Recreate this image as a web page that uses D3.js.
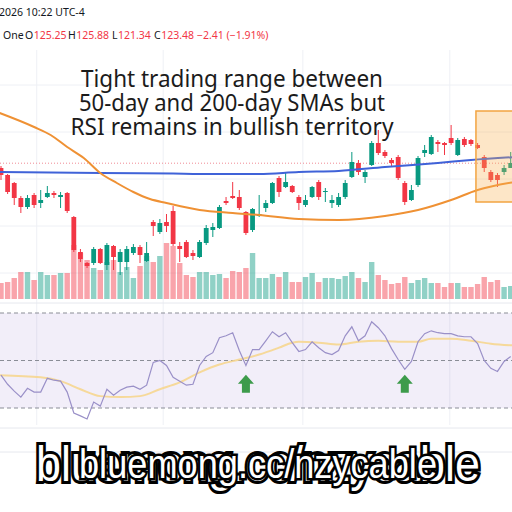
<!DOCTYPE html>
<html><head><meta charset="utf-8">
<script src="https://cdn.jsdelivr.net/npm/d3@7"></script>
<style>html,body{margin:0;padding:0;background:#fff;} svg{display:block;}</style>
</head><body>
<script>
// ---------- DATA ----------
const opens = [123.0,122.3,121.5,120.0,119.1,120.3,119.5,120.1,120.5,120.1,
  120.5,118.1,114.6,113.5,113.5,114.9,113.3,115.2,113.6,113.6,
  114.5,115.1,113.7,117.6,116.6,117.6,118.7,115.2,115.6,114.5,
  114.1,115.5,116.8,117.0,119.7,120.2,120.1,118.6,116.8,118.2,
  119.0,119.5,122.0,121.1,121.2,120.1,119.3,120.1,121.6,120.6,
  119.5,119.3,120.1,122.1,123.5,122.1,123.3,125.5,124.6,123.8,
  124.1,121.5,119.8,121.3,124.5,124.4,125.6,125.5,126.0,124.3,
  125.9,125.8,125.3,124.1,122.6,122.3,122.6,123.0];
const highs = [123.2,122.4,121.6,120.2,120.3,120.5,120.8,121.2,120.7,120.6,
  120.6,118.2,114.9,113.6,115.1,115.0,115.5,115.3,114.9,115.2,
  115.4,115.3,115.6,117.8,117.9,118.4,119.2,115.6,115.8,114.8,
  115.8,117.3,117.5,119.3,120.1,121.6,120.8,118.7,119.0,120.3,
  119.8,121.6,122.2,122.5,121.3,120.3,120.3,121.2,121.8,121.0,
  120.3,120.5,121.8,124.6,123.8,122.8,125.7,126.8,124.8,124.0,
  124.3,121.7,121.3,124.2,125.3,126.3,125.8,125.6,127.3,126.0,
  126.1,125.9,125.5,124.3,122.8,122.5,123.3,124.6];
const lows = [121.8,120.4,119.3,118.5,118.9,119.0,119.0,120.0,120.0,119.0,
  118.5,114.6,113.6,113.0,113.3,113.4,112.8,112.8,112.3,112.8,
  114.3,113.5,113.6,116.2,116.4,116.6,115.2,113.6,114.0,113.8,
  114.0,115.3,116.1,116.9,119.3,119.9,118.8,116.3,116.6,118.1,
  118.6,119.4,120.1,121.0,120.5,118.8,119.1,120.0,119.8,119.6,
  119.0,119.1,119.9,122.0,122.3,121.5,123.2,124.3,124.0,123.2,
  121.8,119.3,119.7,121.1,124.1,124.3,124.6,124.3,125.3,124.2,
  125.1,125.2,124.9,122.6,121.6,121.1,122.3,123.0];
const closes = [122.3,120.6,120.0,119.1,120.0,119.3,119.8,120.5,120.3,120.3,
  118.7,114.8,113.9,113.2,114.9,113.5,115.3,114.1,114.6,114.9,
  115.1,114.3,114.5,117.2,117.5,117.2,115.4,114.9,114.1,114.2,
  115.6,117.0,117.1,119.1,119.5,120.0,119.0,116.5,118.9,118.4,
  119.5,121.5,120.6,121.6,120.6,119.5,119.8,121.1,120.1,120.7,
  119.8,120.1,121.5,123.6,122.6,122.6,125.5,124.5,124.2,123.5,
  122.0,119.6,120.8,124.0,124.8,126.1,125.4,125.3,125.5,125.8,
  125.3,125.4,125.0,123.0,121.8,121.8,123.0,123.5];
const volumes = [16,17,21,27,27,19,27,24,24,26,
  26,54,46,39,31,29,37,39,27,32,
  21,33,43,37,43,56,53,36,24,22,
  27,27,24,25,21,28,27,31,46,21,
  21,25,22,27,17,17,22,26,17,21,
  21,20,23,27,21,17,37,24,19,15,
  16,22,16,19,21,16,16,12,16,16,
  12,12,15,22,17,19,12,13];
const sma50Idx = [-0.2,5,7.5,10,12.5,15,17.5,20,22.5,25,30,35,39,45,51,58,63,68,72,77.6];
const sma50Val = [128.5,127.1,126.3,125.1,124.0,122.5,121.5,120.6,119.9,119.5,118.8,118.5,118.3,117.9,117.8,118.2,118.8,119.8,120.8,121.6];
const sma200Idx = [-0.2,15,26,30,39,45,51,58,66,71,77.6];
const sma200Val = [122.6,122.5,122.45,122.4,122.4,122.6,122.7,123.1,123.5,123.8,124.1];
const rsi = [43.8,40.0,37.1,34.6,38.3,36.7,36.7,42.5,41.7,41.3,
  36.7,27.9,26.7,25.4,32.5,30.8,37.9,35.4,37.5,38.8,
  39.2,37.9,39.6,49.2,50.0,47.9,42.9,41.3,39.6,40.0,
  47.9,51.7,53.3,59.6,60.4,61.7,54.2,47.9,54.6,54.6,
  58.3,62.1,60.0,61.7,57.5,53.8,54.6,57.9,55.4,53.3,
  52.5,54.2,60.4,64.2,58.3,60.4,66.3,63.8,60.4,55.0,
  50.4,46.3,49.6,57.9,61.3,62.5,61.7,61.3,61.3,60.4,
  60.0,60.0,57.1,50.0,46.7,45.4,49.6,51.7];
const rsiMaIdx = [-0.2,6,9,12,15,18,21,24,27,30,33,36,39,42,44,45,48,51,54,57,60,63,65,68,71,74,77.6];
const rsiMaVal = [43.8,42.9,41.3,37.9,35.0,34.6,35.0,37.9,40.8,45.0,48.3,50.4,52.5,55.4,57.5,57.9,57.5,56.7,57.9,58.3,57.9,57.9,59.2,59.2,58.3,57.1,56.3];
const rsiLevels = [70, 50, 30];
const signalIdx = [37, 61];
const signalLevel = 44;
const lastClose = 123.48;
const gridPrices = [131.3, 126.6, 121.9, 117.2, 112.5];
const monthBreaks = [5.4, 24.5, 45.6, 67.8];
const boxFrom = 71.75, boxTo = 79, boxTop = 128.7, boxBottom = 119.6;
const headerDate = "2026 10:22 UTC-4";
const headerLabels = ["O", "H", "L", "C"];
const headerValues = ["125.25", "125.88", "121.34", "123.48"];
const headerChange = "\u22122.41 (\u22121.91%)";
const noteLines = ["Tight trading range between", "50-day and 200-day SMAs but", "RSI remains in bullish territory"];
const watermark = "bluemong.cc/nzycable";

// ---------- DRAW ----------
const W = 512, H = 512;
const UP = "#089981", DOWN = "#f23645";
const svg = d3.select("body").append("svg").attr("width", W).attr("height", H)
  .style("font-family", "'Noto Sans', sans-serif");
svg.append("rect").attr("width", W).attr("height", H).attr("fill", "#fff");

const x = d3.scaleLinear().domain([0, 77]).range([1, 510.7]);
const y = d3.scaleLinear().domain([109.6, 133.8]).range([302, 60]);
const yv = d3.scaleLinear().domain([0, 60]).range([299, 239]);
const yr = d3.scaleLinear().domain([30, 70]).range([408, 313]);

// grid
const grid = svg.append("g");
grid.selectAll(".hg").data(gridPrices).join("line")
  .attr("x1", 0).attr("x2", W).attr("y1", d => y(d)).attr("y2", d => y(d))
  .attr("stroke", "#eef0f5").attr("stroke-width", 1);
grid.selectAll(".vg").data(monthBreaks).join("line")
  .attr("x1", d => x(d)).attr("x2", d => x(d)).attr("y1", 50).attr("y2", 425)
  .attr("stroke", "#eef0f5").attr("stroke-width", 1);

// RSI pane
svg.append("rect").attr("x", 0).attr("width", W)
  .attr("y", yr(70)).attr("height", yr(30) - yr(70)).attr("fill", "rgba(126,87,194,0.1)");
svg.selectAll(".lvl").data(rsiLevels).join("line")
  .attr("x1", 0).attr("x2", W).attr("y1", d => yr(d)).attr("y2", d => yr(d))
  .attr("stroke", "#8a8d96").attr("stroke-width", 1).attr("stroke-dasharray", "4,3");
[303, 428, 452].forEach(v => svg.append("line").attr("x1", 0).attr("x2", W).attr("y1", v).attr("y2", v)
  .attr("stroke", "#e6e8ee").attr("stroke-width", 1));

const idx = d3.range(opens.length);

// volume
svg.append("g").selectAll("rect").data(idx).join("rect")
  .attr("x", i => x(i) - 2.7).attr("width", 5.4)
  .attr("y", i => yv(volumes[i])).attr("height", i => yv(0) - yv(volumes[i]))
  .attr("fill", i => closes[i] >= opens[i] ? "rgba(8,153,129,0.45)" : "rgba(242,54,69,0.45)");

// last price line
svg.append("line").attr("x1", 0).attr("x2", W).attr("y1", y(lastClose)).attr("y2", y(lastClose))
  .attr("stroke", "#f08a94").attr("stroke-width", 1).attr("stroke-dasharray", "1,2");

// candles
const cg = svg.append("g");
cg.selectAll("line").data(idx).join("line")
  .attr("x1", i => x(i)).attr("x2", i => x(i))
  .attr("y1", i => y(highs[i])).attr("y2", i => y(lows[i]))
  .attr("stroke", i => closes[i] >= opens[i] ? UP : DOWN).attr("stroke-width", 1);
cg.selectAll("rect").data(idx).join("rect")
  .attr("x", i => x(i) - 2.4).attr("width", 4.8)
  .attr("y", i => y(Math.max(opens[i], closes[i])))
  .attr("height", i => Math.max(1, Math.abs(y(opens[i]) - y(closes[i]))))
  .attr("fill", i => closes[i] >= opens[i] ? UP : DOWN);

// SMAs
const lineP = (xs, vs, sc) => d3.line().curve(d3.curveMonotoneX)
  .x((d, k) => x(xs[k])).y((d, k) => sc(vs[k]))(vs);
svg.append("path").attr("d", lineP(sma200Idx, sma200Val, y)).attr("fill", "none")
  .attr("stroke", "#3f62d8").attr("stroke-width", 2);
svg.append("path").attr("d", lineP(sma50Idx, sma50Val, y)).attr("fill", "none")
  .attr("stroke", "#ef9134").attr("stroke-width", 2);

// highlight box
svg.append("rect").attr("x", x(boxFrom)).attr("width", x(boxTo) - x(boxFrom))
  .attr("y", y(boxTop)).attr("height", y(boxBottom) - y(boxTop))
  .attr("fill", "rgba(248,176,80,0.32)").attr("stroke", "#f2a441").attr("stroke-width", 1.5);

// RSI lines
svg.append("path").attr("d", lineP(rsiMaIdx, rsiMaVal, yr)).attr("fill", "none")
  .attr("stroke", "#f6d68f").attr("stroke-width", 2).attr("opacity", 0.9);
svg.append("path").attr("d", d3.line().x((d, i) => x(i)).y(d => yr(d))(rsi)).attr("fill", "none")
  .attr("stroke", "#9a90c8").attr("stroke-width", 1.2);

// signal arrows
svg.selectAll(".arr").data(signalIdx).join("path")
  .attr("d", i => {
    const cx = x(i), t = yr(signalLevel);
    return `M${cx},${t} L${cx + 8},${t + 9} L${cx + 4},${t + 9} L${cx + 4},${t + 18} L${cx - 4},${t + 18} L${cx - 4},${t + 9} L${cx - 8},${t + 9} Z`;
  })
  .attr("fill", "#3d9b4b");

// header
svg.append("text").attr("x", -1).attr("y", 16).attr("font-size", 10.5).attr("fill", "#131722").text(headerDate);
const hx = [25, 68, 112, 154];
svg.append("text").attr("x", 3).attr("y", 38.5).attr("font-size", 10.5).attr("fill", "#131722").text("One");
headerLabels.forEach((l, k) => {
  const t = svg.append("text").attr("x", hx[k]).attr("y", 38.5).attr("font-size", 10.5);
  t.append("tspan").attr("fill", "#131722").text(l);
  t.append("tspan").attr("fill", "#f23645").attr("dx", 0.5).text(headerValues[k]);
});
svg.append("text").attr("x", 197).attr("y", 38.5).attr("font-size", 10.5).attr("fill", "#f23645").text(headerChange);

// annotation
const noteW = [302, 306, 323];
noteLines.forEach((s, k) => {
  svg.append("text").attr("x", 232).attr("y", 87 + 24 * k).attr("text-anchor", "middle")
    .attr("font-size", 23).attr("fill", "#1b1b1b")
    .attr("textLength", noteW[k]).attr("lengthAdjust", "spacingAndGlyphs").text(s);
});

// watermark (outlined white text over a larger outlined ghost copy)
const wm = svg.append("g").style("font-family", "'Liberation Sans', Arial, sans-serif");
wm.append("text").attr("x", 258).attr("y", 478).attr("text-anchor", "middle")
  .attr("font-size", 40).attr("textLength", 358).attr("lengthAdjust", "spacingAndGlyphs")
  .attr("transform", "translate(258,466) scale(1.24) translate(-258,-466)")
  .attr("fill", "#fff").attr("stroke", "#000").attr("stroke-width", 5)
  .attr("paint-order", "stroke").text(watermark);
wm.append("text").attr("x", 258).attr("y", 478).attr("text-anchor", "middle")
  .attr("font-size", 40).attr("textLength", 358).attr("lengthAdjust", "spacingAndGlyphs")
  .attr("fill", "#fff").attr("stroke", "#000").attr("stroke-width", 5)
  .attr("paint-order", "stroke").text(watermark);
</script>
</body></html>
